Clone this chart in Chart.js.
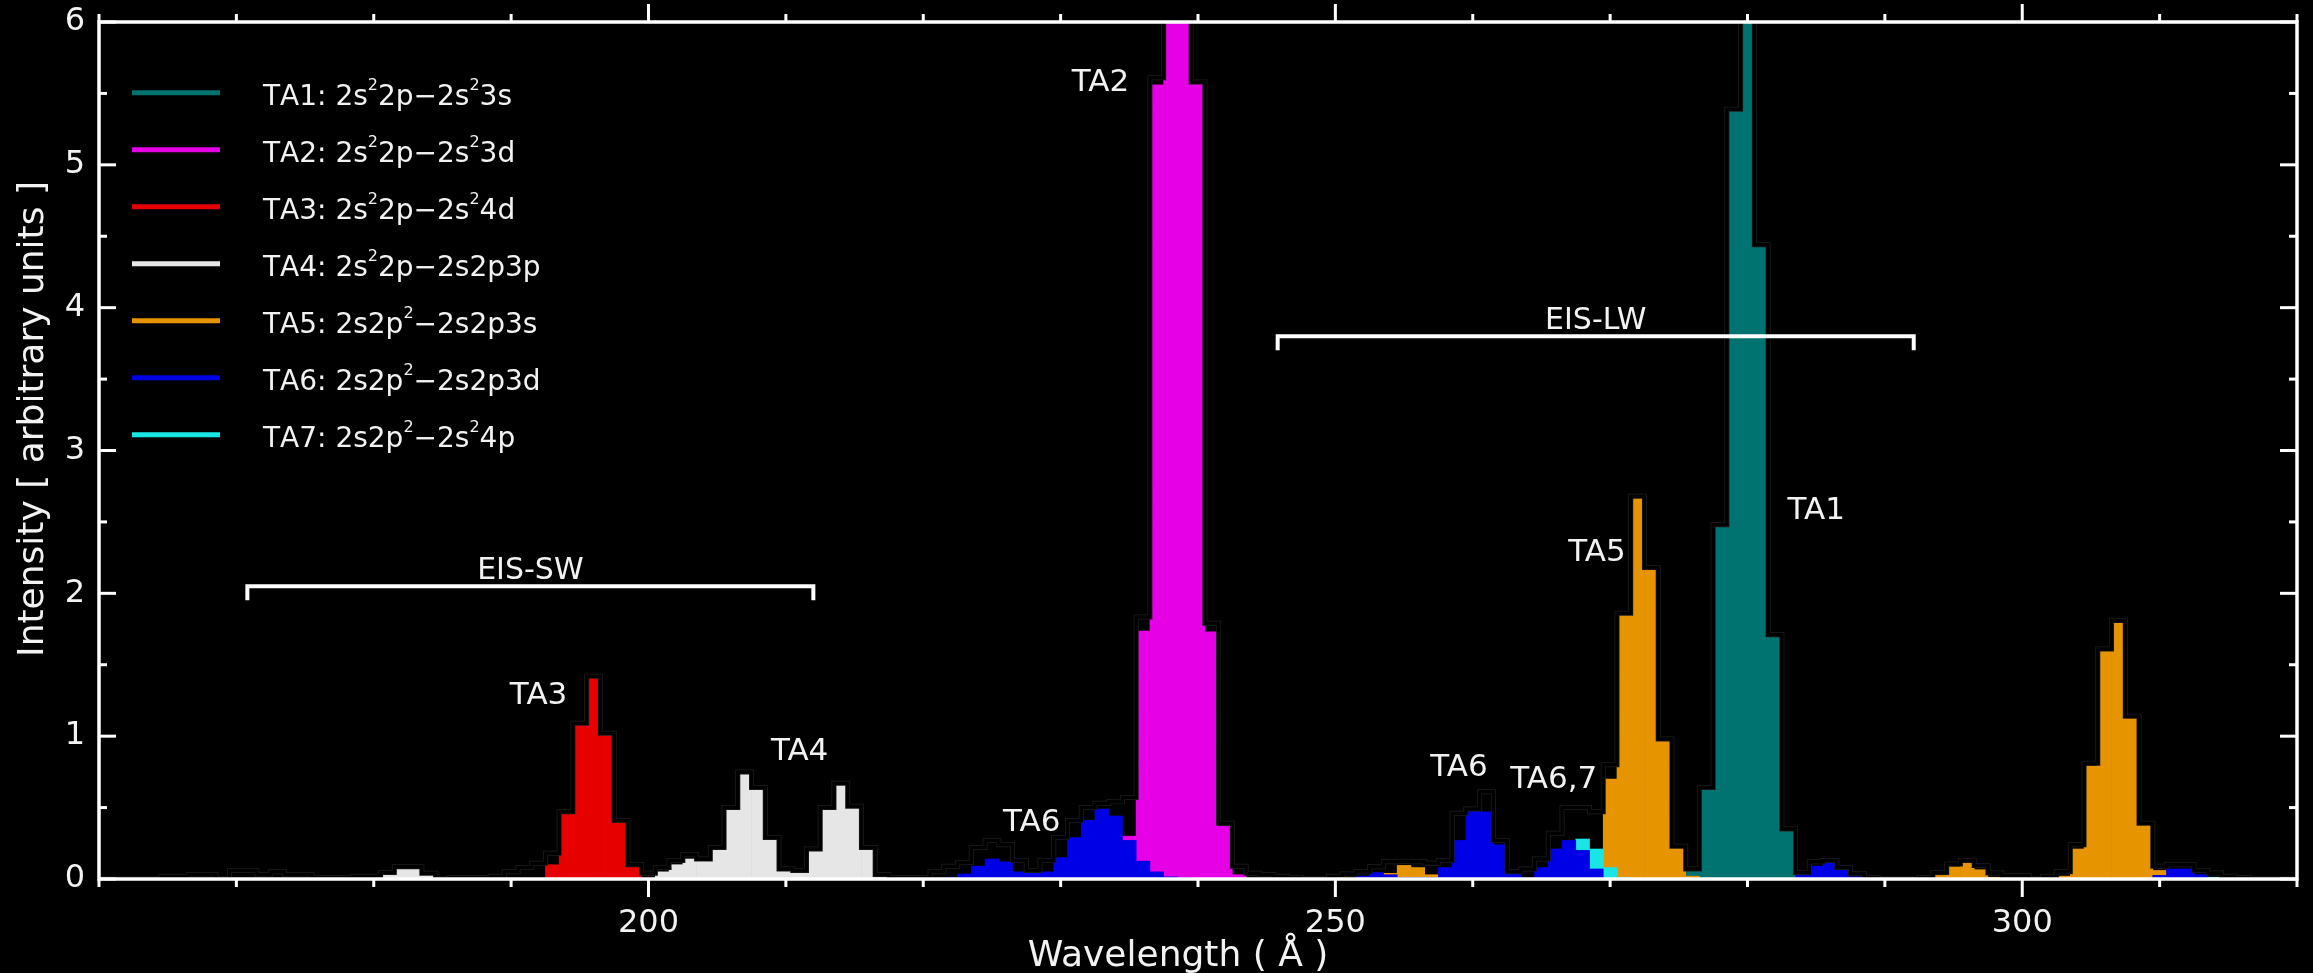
<!DOCTYPE html>
<html>
<head>
<meta charset="utf-8">
<script src="https://cdn.jsdelivr.net/npm/chart.js@4.4.1/dist/chart.umd.min.js"></script>
<style>
  html, body { margin: 0; padding: 0; background: #000; }
</style>
</head>
<body>
<canvas id="chart1" width="2313" height="973"></canvas>
<script>
// bin centres (1 Å bins)
const wavelengths = [];
for (let w = 160; w <= 320; w++) wavelengths.push(w);

const xMinorTicks = [160, 170, 180, 190, 200, 210, 220, 230, 240, 250, 260, 270, 280, 290, 300, 310, 320];
const xMajorTicks = [200, 250, 300];
const yMajorTicks = [0, 1, 2, 3, 4, 5, 6];
const yMinorTicks = [0.5, 1.5, 2.5, 3.5, 4.5, 5.5];

// [wavelength, intensity] per transition array
const TA1 = [[276,0.05],[277,0.64],[278,2.48],[279,5.39],[280,7.0],[281,4.44],[282,1.71],[283,0.35]];
const TA2 = [[235,0.03],[236,1.61],[237,5.51],[238,7.6],[239,7.1],[240,5.58],[241,1.73],[242,0.37],[243,0.03]];
const TA3 = [[193,0.10],[194,0.47],[195,1.09],[196,1.42],[197,1.02],[198,0.41],[199,0.10]];
const TA4 = [[180,0.02],[181,0.045],[182,0.085],[183,0.085],[184,0.04],
  [201,0.05],[202,0.10],[203,0.14],[204,0.14],[205,0.22],[206,0.50],[207,0.75],[208,0.64],[209,0.29],
  [210,0.07],[211,0.06],[212,0.21],[213,0.50],[214,0.67],[215,0.51],[216,0.22],[217,0.03]];
const TA5 = [[254,0.01],[255,0.085],[256,0.07],[257,0.02],
  [270,0.62],[271,1.85],[272,2.68],[273,2.18],[274,0.98],[275,0.23],[276,0.02],
  [294,0.025],[295,0.085],[296,0.11],[297,0.065],[298,0.012],
  [303,0.02],[304,0.21],[305,0.79],[306,1.61],[307,1.81],[308,1.14],[309,0.39],[310,0.035]];
const TA6 = [[222,0.01],[223,0.035],[224,0.09],[225,0.14],[226,0.12],[227,0.05],[228,0.05],[229,0.05],
  [230,0.15],[231,0.29],[232,0.41],[233,0.49],[234,0.44],[235,0.27],[236,0.125],[237,0.05],[238,0.015],[239,0.01],
  [251,0.005],[252,0.02],[253,0.045],[254,0.03],[255,0.01],[256,0.01],[257,0.01],[258,0.08],[259,0.27],
  [260,0.49],[261,0.47],[262,0.24],[263,0.05],[264,0.01],[265,0.08],[266,0.21],[267,0.27],[268,0.20],[269,0.07],
  [284,0.025],[285,0.09],[286,0.11],[287,0.06],[288,0.016],[299,0.015],[300,0.015],
  [310,0.025],[311,0.07],[312,0.07],[313,0.03]];
const TA7 = [[268,0.08],[269,0.14],[270,0.08],[271,0.01],[314,0.012]];
// unassigned lines: only show up in the total outline
const OTHER = [[165,0.02],[166,0.02],[167,0.03],[168,0.03],[170,0.06],[171,0.06],[172,0.03],[173,0.05],[174,0.03],
  [175,0.03],[176,0.01],[177,0.01],[178,0.01],[179,0.02],[186,0.01],[187,0.01],[188,0.01],[189,0.02],[190,0.05],
  [191,0.08],[192,0.11],[193,0.08],[200,0.04],[201,0.03],[202,0.03],[203,0.03],[218,0.01],[219,0.01],[220,0.01],
  [221,0.05],[222,0.08],[223,0.08],[224,0.13],[225,0.13],[226,0.12],[227,0.08],[228,0.01],[229,0.08],[230,0.14],
  [231,0.12],[232,0.09],[233,0.04],[234,0.10],[235,0.27],[236,0.10],[237,0.05],[241,0.06],[242,0.02],[243,0.06],
  [244,0.04],[245,0.03],[246,0.02],[247,0.01],[250,0.02],[251,0.03],[252,0.03],[253,0.04],[254,0.08],[255,0.03],
  [256,0.04],[257,0.08],[258,0.05],[259,0.19],[261,0.14],[262,0.03],[264,0.06],[265,0.06],[266,0.11],[267,0.23],
  [268,0.22],[269,0.26],[270,0.10],[284,0.02],[285,0.03],[286,0.02],[287,0.02],[288,0.02],[289,0.01],[293,0.01],
  [294,0.02],[295,0.02],[296,0.02],[297,0.03],[298,0.03],[299,0.01],[300,0.01],[302,0.02],[303,0.03],[304,0.03],
  [305,0.02],[310,0.03],[311,0.03],[312,0.03],[313,0.03],[314,0.03],[315,0.02],[316,0.01]];

const seriesLabels = [
  'TA1: 2s^22p\u22122s^23s',
  'TA2: 2s^22p\u22122s^23d',
  'TA3: 2s^22p\u22122s^24d',
  'TA4: 2s^22p\u22122s2p3p',
  'TA5: 2s2p^2\u22122s2p3s',
  'TA6: 2s2p^2\u22122s2p3d',
  'TA7: 2s2p^2\u22122s^24p'
];

const peakLabels = [
  ['TA2', 232.9, 5.57], ['TA3', 192.0, 1.28], ['TA4', 211.0, 0.89], ['TA6', 227.9, 0.39],
  ['TA6', 259.0, 0.78], ['TA6,7', 265.9, 0.69], ['TA5', 269.05, 2.28], ['TA1', 285.0, 2.58]
];
const eisRanges = [['EIS-SW', 170.8, 212.0, 2.05], ['EIS-LW', 245.8, 292.1, 3.80]];

const colors = ['#007370', '#e600e6', '#e60000', '#e6e6e6', '#e69500', '#0000e6', '#1ae5e5'];
const FONT = 'DejaVu Sans';

function toBins(pairs) {
  const m = new Map(pairs);
  return wavelengths.map(w => ({ x: w, y: m.has(w) ? m.get(w) : null }));
}

const allSeries = [TA1, TA2, TA3, TA4, TA5, TA6, TA7, OTHER];
const totals = wavelengths.map(w => {
  let s = 0;
  allSeries.forEach(p => p.forEach(([x, v]) => { if (x === w) s += v; }));
  return { x: w, y: s };
});

// stacking order bottom -> top
const stackOrder = [5, 6, 4, 0, 1, 2, 3];
const seriesData = [TA1, TA2, TA3, TA4, TA5, TA6, TA7];
const barSets = stackOrder.map(i => ({
  type: 'bar',
  label: seriesLabels[i],
  data: toBins(seriesData[i]),
  backgroundColor: colors[i],
  borderWidth: 0,
  barPercentage: 1,
  categoryPercentage: 1,
  stack: 'lines',
  order: 2
}));

function drawRich(ctx, text, x, y, size) {
  let cx = x;
  for (let i = 0; i < text.length; i++) {
    const ch = text[i];
    if (ch === '^') {
      const s = text[++i];
      ctx.font = Math.round(size * 0.58) + 'px "' + FONT + '"';
      ctx.fillText(s, cx, y - size * 0.52);
      cx += ctx.measureText(s).width;
    } else {
      ctx.font = size + 'px "' + FONT + '"';
      ctx.fillText(ch, cx, y);
      cx += ctx.measureText(ch).width;
    }
  }
}

// keep the plot box where the reference has it
function noPad(s) {
  s.paddingTop = 0;
  s.paddingBottom = 0;
  s.paddingLeft = 0;
  s.paddingRight = 0;
}

const decor = {
  id: 'decor',
  beforeDraw(chart) {
    const ctx = chart.ctx;
    ctx.save();
    ctx.fillStyle = '#000';
    ctx.fillRect(0, 0, chart.width, chart.height);
    ctx.restore();
  },
  afterDatasetsDraw(chart) {
    const { ctx, chartArea: a, scales: { x, y } } = chart;
    const seg = (x1, y1, x2, y2) => { ctx.beginPath(); ctx.moveTo(x1, y1); ctx.lineTo(x2, y2); ctx.stroke(); };
    ctx.save();
    ctx.strokeStyle = '#ffffff';
    ctx.lineWidth = 3.5;
    ctx.strokeRect(a.left, a.top, a.right - a.left, a.bottom - a.top);
    ctx.lineWidth = 3;
    xMinorTicks.forEach(w => {
      const px = x.getPixelForValue(w);
      const len = xMajorTicks.includes(w) ? 18 : 8;
      seg(px, a.bottom, px, a.bottom + len);
      seg(px, a.top, px, a.top - len);
    });
    yMajorTicks.concat(yMinorTicks).forEach(v => {
      const py = y.getPixelForValue(v);
      const len = yMajorTicks.includes(v) ? 17 : 8;
      seg(a.left, py, a.left + len, py);
      seg(a.right, py, a.right - len, py);
    });

    // EIS brackets
    ctx.lineWidth = 4;
    ctx.fillStyle = '#f2f2f2';
    ctx.font = '30px "' + FONT + '"';
    ctx.textAlign = 'center';
    ctx.textBaseline = 'alphabetic';
    eisRanges.forEach(([name, x1, x2, v]) => {
      const p1 = x.getPixelForValue(x1), p2 = x.getPixelForValue(x2), py = y.getPixelForValue(v);
      ctx.beginPath();
      ctx.moveTo(p1, py + 14); ctx.lineTo(p1, py); ctx.lineTo(p2, py); ctx.lineTo(p2, py + 14);
      ctx.stroke();
      ctx.fillText(name, (p1 + p2) / 2, py - 7);
    });

    // peak labels
    ctx.font = '31px "' + FONT + '"';
    ctx.textBaseline = 'middle';
    peakLabels.forEach(([t, w, v]) => {
      ctx.fillText(t, x.getPixelForValue(w), y.getPixelForValue(v));
    });

    // legend
    ctx.textAlign = 'left';
    ctx.textBaseline = 'alphabetic';
    seriesLabels.forEach((lab, i) => {
      const ry = a.top + 70.7 + i * 57;
      ctx.strokeStyle = colors[i];
      ctx.lineWidth = 5;
      seg(a.left + 33, ry, a.left + 121, ry);
      ctx.fillStyle = '#f2f2f2';
      drawRich(ctx, lab, a.left + 164, ry + 12, 28);
    });

    // axis titles
    ctx.fillStyle = '#f2f2f2';
    ctx.font = '36px "' + FONT + '"';
    ctx.textAlign = 'center';
    ctx.fillText('Wavelength ( \u00c5 )', 1178, 966);
    ctx.translate(43, 419);
    ctx.rotate(-Math.PI / 2);
    ctx.fillText('Intensity [ arbitrary units ]', 0, 0);
    ctx.restore();
  }
};

Chart.defaults.font.family = FONT;

new Chart(document.getElementById('chart1'), {
  data: {
    datasets: [
      {
        type: 'line',
        label: 'total',
        data: totals,
        stepped: 'middle',
        borderColor: '#000',
        borderWidth: 3.5,
        pointRadius: 0,
        fill: false,
        stack: 'total',
        order: 0
      },
      {
        type: 'line',
        label: 'halo',
        data: totals,
        stepped: 'middle',
        borderColor: '#1e1e1e',
        borderWidth: 5,
        pointRadius: 0,
        fill: false,
        stack: 'halo',
        order: 1
      },
      ...barSets
    ]
  },
  options: {
    responsive: false,
    devicePixelRatio: 1,
    animation: false,
    layout: { padding: { top: 22, right: 16, left: 0, bottom: 0 } },
    plugins: { legend: { display: false }, tooltip: { enabled: false } },
    scales: {
      x: {
        type: 'linear',
        min: 160,
        max: 320,
        offset: false,
        stacked: true,
        afterFit: s => { s.height = 94; noPad(s); },
        grid: { display: false, drawTicks: false, offset: false },
        border: { display: false },
        ticks: {
          stepSize: 10,
          autoSkip: false,
          maxRotation: 0,
          padding: 25,
          color: '#f2f2f2',
          font: { size: 32 },
          callback: v => (xMajorTicks.includes(v) ? String(v) : '')
        }
      },
      y: {
        min: 0,
        max: 6,
        stacked: true,
        afterFit: s => { s.width = 99; noPad(s); },
        grid: { display: false, drawTicks: false },
        border: { display: false },
        ticks: {
          stepSize: 1,
          padding: 14,
          color: '#f2f2f2',
          font: { size: 32 }
        }
      }
    }
  },
  plugins: [decor]
});
</script>
</body>
</html>
